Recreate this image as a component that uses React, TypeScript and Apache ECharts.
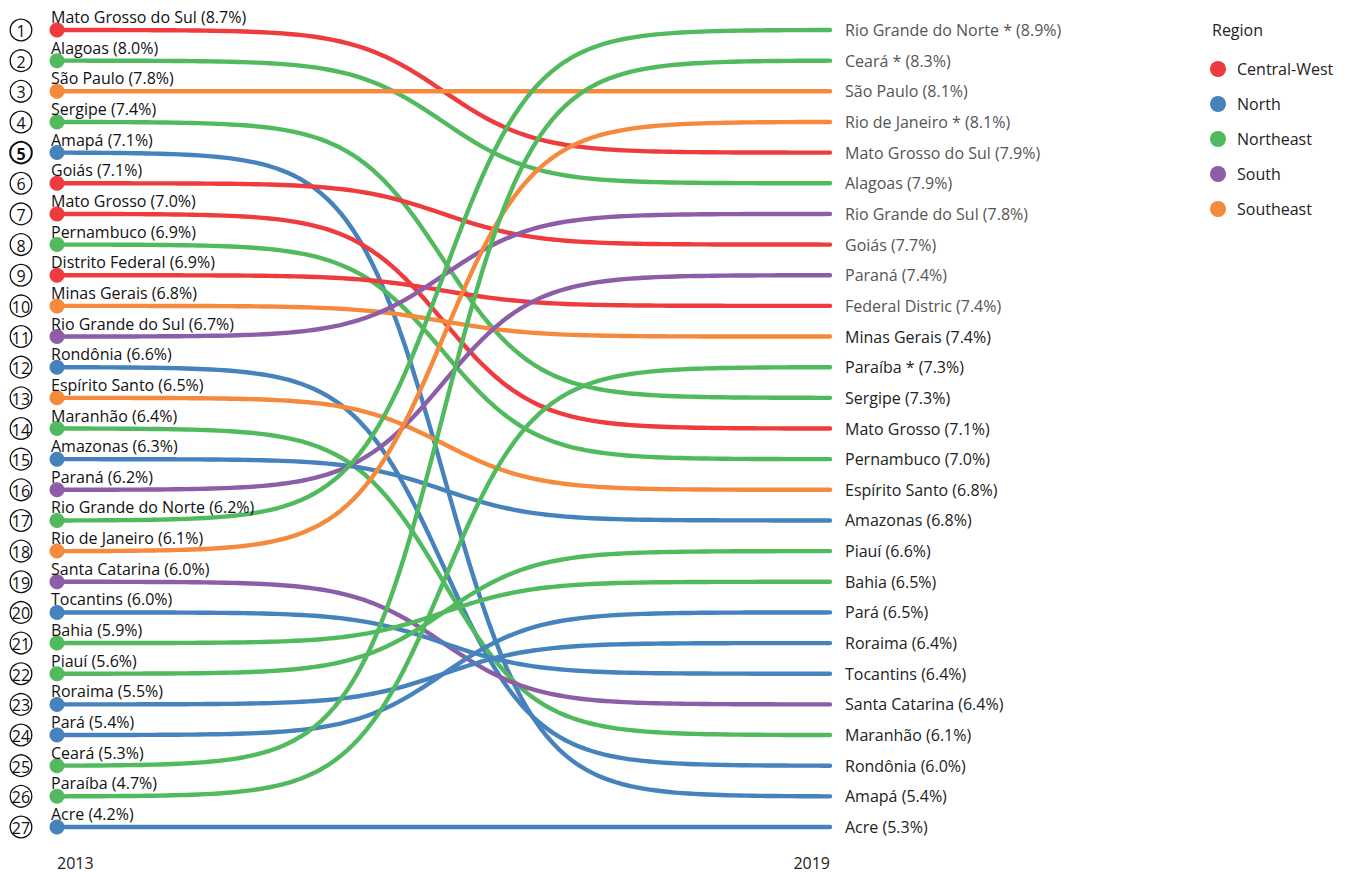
import React, { useEffect, useRef } from "react";
import * as echarts from "echarts";

const regionNames = ["Central-West", "North", "Northeast", "South", "Southeast"];
const regionColors = ["#EE3B3E", "#4683BD", "#52BA5E", "#8E5DA7", "#F58A3C"];

// 2013 ranking (left side)
const states2013 = [
  "Mato Grosso do Sul", "Alagoas", "São Paulo", "Sergipe", "Amapá", "Goiás", "Mato Grosso",
  "Pernambuco", "Distrito Federal", "Minas Gerais", "Rio Grande do Sul", "Rondônia",
  "Espírito Santo", "Maranhão", "Amazonas", "Paraná", "Rio Grande do Norte", "Rio de Janeiro",
  "Santa Catarina", "Tocantins", "Bahia", "Piauí", "Roraima", "Pará", "Ceará", "Paraíba", "Acre",
];
const regions2013 = [
  "Central-West", "Northeast", "Southeast", "Northeast", "North", "Central-West", "Central-West",
  "Northeast", "Central-West", "Southeast", "South", "North",
  "Southeast", "Northeast", "North", "South", "Northeast", "Southeast",
  "South", "North", "Northeast", "Northeast", "North", "North", "Northeast", "Northeast", "North",
];
const rates2013 = [
  8.7, 8.0, 7.8, 7.4, 7.1, 7.1, 7.0, 6.9, 6.9, 6.8, 6.7, 6.6, 6.5, 6.4, 6.3, 6.2, 6.2, 6.1,
  6.0, 6.0, 5.9, 5.6, 5.5, 5.4, 5.3, 4.7, 4.2,
];

// 2019 ranking (right side)
const states2019 = [
  "Rio Grande do Norte", "Ceará", "São Paulo", "Rio de Janeiro", "Mato Grosso do Sul", "Alagoas",
  "Rio Grande do Sul", "Goiás", "Paraná", "Distrito Federal", "Minas Gerais", "Paraíba",
  "Sergipe", "Mato Grosso", "Pernambuco", "Espírito Santo", "Amazonas", "Piauí", "Bahia",
  "Pará", "Roraima", "Tocantins", "Santa Catarina", "Maranhão", "Rondônia", "Amapá", "Acre",
];
const labels2019 = [
  "Rio Grande do Norte *", "Ceará *", "São Paulo", "Rio de Janeiro *", "Mato Grosso do Sul", "Alagoas",
  "Rio Grande do Sul", "Goiás", "Paraná", "Federal Distric", "Minas Gerais", "Paraíba *",
  "Sergipe", "Mato Grosso", "Pernambuco", "Espírito Santo", "Amazonas", "Piauí", "Bahia",
  "Pará", "Roraima", "Tocantins", "Santa Catarina", "Maranhão", "Rondônia", "Amapá", "Acre",
];
const rates2019 = [
  8.9, 8.3, 8.1, 8.1, 7.9, 7.9, 7.8, 7.7, 7.4, 7.4, 7.4, 7.3, 7.3, 7.1, 7.0, 6.8, 6.8, 6.6,
  6.5, 6.5, 6.4, 6.4, 6.4, 6.1, 6.0, 5.4, 5.3,
];

const years = ["2013", "2019"];
const highlightedRank = 5;
const grayTopCount = 10;

const FONT = '"Open Sans", "Noto Sans", sans-serif';
const FS = 16;

// normalized logistic easing used to draw the connecting curves
const STEEP = 17;
const logistic = (t: number) => 1 / (1 + Math.exp(-STEEP * (t - 0.5)));
const L0 = logistic(0);
const L1 = logistic(1);
const ease = (t: number) => (logistic(t) - L0) / (L1 - L0);

export default function App() {
  const ref = useRef<HTMLDivElement>(null);

  useEffect(() => {
    if (!ref.current) return;
    const chart = echarts.init(ref.current, undefined, { renderer: "svg" });

    const data = states2013.map((name, i) => {
      const r2019 = states2019.indexOf(name);
      return [i + 1, r2019 + 1, regionNames.indexOf(regions2013[i]), i];
    });

    const renderItem = (params: any, api: any) => {
      const r0 = api.value(0);
      const r1 = api.value(1);
      const reg = api.value(2);
      const idx = api.value(3);
      const p0 = api.coord([0, r0]);
      const p1 = api.coord([1, r1]);
      const color = regionColors[reg];
      const j = r1 - 1;
      const bold = r0 === highlightedRank;
      const steps = 120;
      const pts: number[][] = [];
      for (let s = 0; s <= steps; s++) {
        const t = s / steps;
        pts.push([p0[0] + (p1[0] - p0[0]) * t, p0[1] + (p1[1] - p0[1]) * ease(t)]);
      }
      return {
        type: "group",
        children: [
          {
            type: "polyline",
            shape: { points: pts },
            style: { stroke: color, lineWidth: 4.4, fill: "none", lineCap: "round", lineJoin: "round" },
            z2: 1,
          },
          {
            type: "circle",
            shape: { cx: p0[0], cy: p0[1], r: 7.5 },
            style: { fill: color },
            z2: 3,
          },
          {
            type: "text",
            x: p0[0] - 6,
            y: p0[1] - 13,
            style: {
              text: `${states2013[idx]} (${rates2013[idx].toFixed(1)}%)`,
              fill: "#111",
              fontSize: FS,
              fontFamily: FONT,
              align: "left",
              verticalAlign: "middle",
            },
            z2: 4,
          },
          {
            type: "circle",
            shape: { cx: p0[0] - 36, cy: p0[1], r: 10.8 },
            style: { fill: "#fff", stroke: "#111", lineWidth: bold ? 2 : 1.3 },
            z2: 3,
          },
          {
            type: "text",
            x: p0[0] - 36,
            y: p0[1] + 1,
            style: {
              text: String(r0),
              fill: "#111",
              fontSize: FS,
              fontWeight: bold ? "bold" : "normal",
              fontFamily: FONT,
              align: "center",
              verticalAlign: "middle",
            },
            z2: 4,
          },
          {
            type: "text",
            x: p1[0] + 15,
            y: p1[1],
            style: {
              text: `${labels2019[j]} (${rates2019[j].toFixed(1)}%)`,
              fill: j < grayTopCount ? "#555" : "#222",
              fontSize: FS,
              fontFamily: FONT,
              align: "left",
              verticalAlign: "middle",
            },
            z2: 4,
          },
        ],
      };
    };

    const option: any = {
      animation: false,
      textStyle: { fontFamily: FONT },
      title: {
        text: "Region",
        left: 1207,
        top: 17,
        textStyle: { fontSize: FS, fontWeight: "normal", color: "#222", fontFamily: FONT },
      },
      legend: {
        orient: "vertical",
        left: 1210,
        top: 61,
        padding: 0,
        icon: "circle",
        itemWidth: 16,
        itemHeight: 16,
        itemGap: 19,
        textStyle: { fontSize: FS, lineHeight: 16, color: "#222", fontFamily: FONT, padding: [0, 0, 0, 6] },
        data: regionNames,
      },
      grid: { left: 57, right: 517, top: 30, bottom: 48 },
      xAxis: {
        type: "value",
        min: 0,
        max: 1,
        interval: 1,
        axisLine: { show: false },
        axisTick: { show: false },
        splitLine: { show: false },
        axisLabel: {
          formatter: (v: number) => years[v],
          fontSize: FS,
          color: "#222",
          fontFamily: FONT,
          margin: 28,
          alignMinLabel: "left",
          alignMaxLabel: "right",
        },
      },
      yAxis: {
        type: "value",
        min: 1,
        max: 27,
        inverse: true,
        show: false,
      },
      series: [
        {
          type: "custom",
          name: "states",
          renderItem,
          data,
          z: 2,
        },
        ...regionNames.map((n, i) => ({
          type: "scatter",
          name: n,
          data: [],
          itemStyle: { color: regionColors[i], opacity: 1 },
        })),
      ],
    };

    chart.setOption(option);
    return () => chart.dispose();
  }, []);

  return (
    <div
      ref={ref}
      style={{ position: "absolute", left: 0, top: 0, width: 1347, height: 875, background: "#fff" }}
    />
  );
}
